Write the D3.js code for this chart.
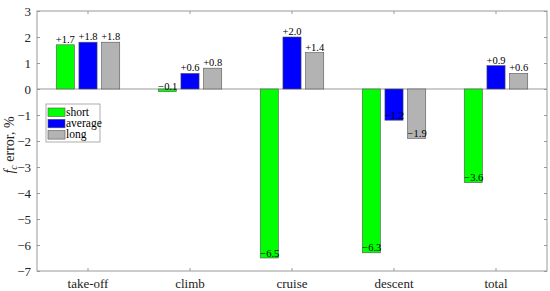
<!DOCTYPE html>
<html>
<head>
<meta charset="utf-8">
<script src="https://cdn.jsdelivr.net/npm/d3@7"></script>
<style>
  body { margin: 0; background: #fff; }
</style>
</head>
<body>
<svg class="chart"></svg>
<script>
var WIDTH = 550;
var HEIGHT = 291;

var LEFT = 37, RIGHT = 547, TOP = 11, BOTTOM = 271;
var FONT = "'Liberation Serif'";

var categories = ["take-off", "climb", "cruise", "descent", "total"];
var seriesNames = ["short", "average", "long"];
var shortVals = [1.7, -0.1, -6.5, -6.3, -3.6];
var averageVals = [1.8, 0.6, 2.0, -1.2, 0.9];
var longVals = [1.8, 0.8, 1.4, -1.9, 0.6];
var yTicks = [3, 2, 1, 0, -1, -2, -3, -4, -5, -6, -7];
var colors = ["#00ff00", "#0000ff", "#b3b3b3"];

var series = [shortVals, averageVals, longVals];

var svg = d3.select(".chart").attr("width", WIDTH).attr("height", HEIGHT);

var x = d3.scaleBand().domain(categories).range([LEFT, RIGHT]).padding(0);
var xInner = d3.scaleBand().domain(seriesNames)
               .range([0, x.bandwidth() * 2 / 3]).paddingInner(0.2).paddingOuter(0.1);
var y = d3.scaleLinear().domain([-7, 3]).range([BOTTOM, TOP]);

// zero line
svg.append("line")
   .attr("x1", LEFT).attr("x2", RIGHT)
   .attr("y1", y(0)).attr("y2", y(0))
   .attr("stroke", "#999").attr("stroke-width", 1);

// bars
var groupOffset = x.bandwidth() / 6;
series.forEach(function(vals, si) {
    var g = svg.append("g");
    g.selectAll("rect").data(vals).enter().append("rect")
     .attr("x", function(d, i) { return x(categories[i]) + groupOffset + xInner(seriesNames[si]); })
     .attr("y", function(d) { return y(Math.max(0, d)); })
     .attr("width", xInner.bandwidth())
     .attr("height", function(d) { return Math.abs(y(d) - y(0)); })
     .attr("fill", colors[si])
     .attr("stroke", "#555").attr("stroke-width", 0.6);

    g.selectAll("text").data(vals).enter().append("text")
     .attr("x", function(d, i) {
         var bx = x(categories[i]) + groupOffset + xInner(seriesNames[si]);
         return d >= 0 ? bx + xInner.bandwidth() / 2 : bx;
     })
     .attr("y", function(d) { return d >= 0 ? y(d) - 2 : y(d) - 1.5; })
     .attr("text-anchor", function(d) { return d >= 0 ? "middle" : "start"; })
     .style("font-family", FONT)
     .style("font-size", "10.5px")
     .attr("fill", "#000")
     .text(function(d) { return (d >= 0 ? "+" : "\u2212") + Math.abs(d).toFixed(1); });
});

// frame
svg.append("rect")
   .attr("x", LEFT).attr("y", TOP)
   .attr("width", RIGHT - LEFT).attr("height", BOTTOM - TOP)
   .attr("fill", "none").attr("stroke", "#999").attr("stroke-width", 1);

// y ticks
var yAxisL = d3.axisLeft(y).tickValues(yTicks).tickSizeInner(-3).tickSizeOuter(0)
               .tickPadding(6).tickFormat(function(d) { return d < 0 ? "\u2212" + (-d) : d; });
var gy = svg.append("g").attr("transform", "translate(" + LEFT + ",0)").call(yAxisL);
gy.attr("font-family", null).attr("font-size", null);
gy.select(".domain").remove();
gy.selectAll("line").attr("stroke", "#999");
gy.selectAll("text").style("font-family", FONT).style("font-size", "13px").attr("fill", "#222");

var gyR = svg.append("g").attr("transform", "translate(" + RIGHT + ",0)")
             .call(d3.axisRight(y).tickValues(yTicks).tickSizeInner(-3).tickSizeOuter(0).tickFormat(""));
gyR.select(".domain").remove();
gyR.selectAll("line").attr("stroke", "#999");

// x ticks
var gx = svg.append("g").attr("transform", "translate(0," + BOTTOM + ")")
            .call(d3.axisBottom(x).tickSizeInner(-3).tickSizeOuter(0).tickPadding(8));
gx.attr("font-family", null).attr("font-size", null);
gx.select(".domain").remove();
gx.selectAll("line").attr("stroke", "#999");
gx.selectAll("text").style("font-family", FONT).style("font-size", "13px").attr("fill", "#222");

var gxT = svg.append("g").attr("transform", "translate(0," + TOP + ")")
             .call(d3.axisTop(x).tickSizeInner(-3).tickSizeOuter(0).tickFormat(""));
gxT.select(".domain").remove();
gxT.selectAll("line").attr("stroke", "#999");

// y label
var yl = svg.append("text")
   .attr("transform", "translate(14," + ((TOP + BOTTOM) / 2 + 4) + ") rotate(-90)")
   .attr("text-anchor", "middle")
   .style("font-family", FONT)
   .style("font-size", "14px")
   .attr("fill", "#222");
yl.append("tspan").style("font-style", "italic").text("f");
yl.append("tspan").style("font-style", "italic").style("font-size", "10px").attr("dy", 3).text("c");
yl.append("tspan").attr("dy", -3).text(" error, %");

// legend
var LX = 46, LY = 104;
var legend = svg.append("g").attr("transform", "translate(" + LX + "," + LY + ")");
legend.append("rect").attr("width", 54).attr("height", 38)
      .attr("fill", "#fff").attr("stroke", "#999").attr("stroke-width", 0.8);
seriesNames.forEach(function(name, i) {
    legend.append("rect")
          .attr("x", 2).attr("y", 4 + i * 11.3)
          .attr("width", 17).attr("height", 8.5)
          .attr("fill", colors[i]).attr("stroke", "#555").attr("stroke-width", 0.6);
    legend.append("text")
          .attr("x", 20).attr("y", 11.8 + i * 11.3)
          .style("font-family", FONT)
          .style("font-size", "11.5px").attr("fill", "#000")
          .text(name);
});
</script>
</body>
</html>
